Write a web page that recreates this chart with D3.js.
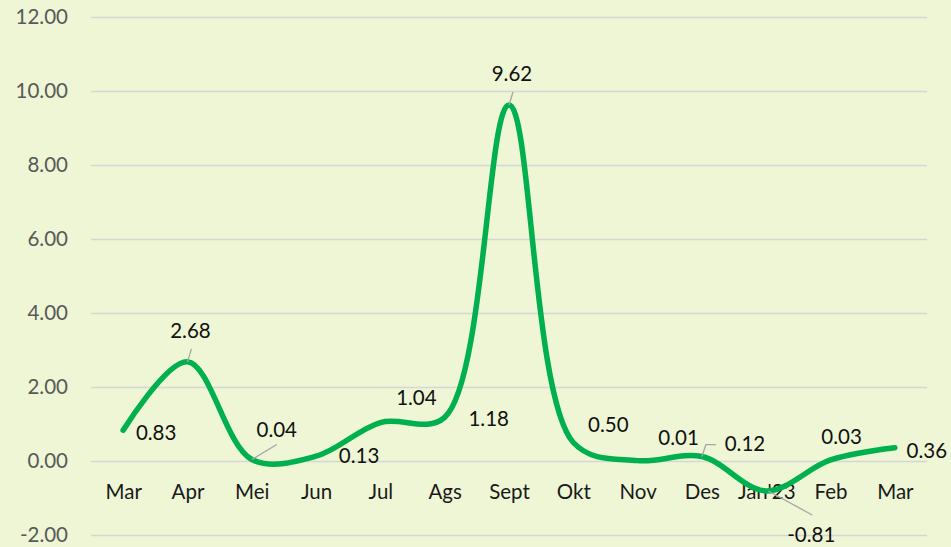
<!DOCTYPE html>
<html>
<head>
<meta charset="utf-8">
<script src="https://cdn.jsdelivr.net/npm/d3@7"></script>
<style>
  html, body { margin: 0; padding: 0; background: #eef6d5; }
  #chart { width: 951px; height: 547px; }
  text { font-family: Lato, "Open Sans", sans-serif; }
</style>
</head>
<body>
<div id="chart"></div>
<script>
/* ---------- Data ---------- */
const categories = ["Mar", "Apr", "Mei", "Jun", "Jul", "Ags", "Sept", "Okt", "Nov", "Des", "Jan'23", "Feb", "Mar"];
const values = [0.83, 2.68, 0.04, 0.13, 1.04, 1.18, 9.62, 0.50, 0.01, 0.12, -0.81, 0.03, 0.36];
const yTicks = [-2, 0, 2, 4, 6, 8, 10, 12];

// label placement relative to each point (moved labels, as in the source)
const labelOffsets = [[33, 3], [3, -31], [25, -30], [43, 0], [36, -25], [44, 1], [3, -31],
                      [35, -18], [41, -23], [43, -13], [45, 44], [11, -23], [32, 3]];
// leader lines, relative to the point
const leaders = {
  1: [[0, 0], [4, -13]],
  2: [[0, 0], [25, -15]],
  6: [[0, 0], [4, -13]],
  9: [[0, 0], [4, -12], [14, -12]],
  10: [[2, 0], [46, 24]]
};

/* ---------- Chart ---------- */
function drawChart() {
  const width = 951, height = 547;
  const margin = { top: 17, right: 24, bottom: 12, left: 91 };

  const svg = d3.select("#chart").append("svg")
    .attr("width", width)
    .attr("height", height);

  svg.append("rect")
    .attr("width", width).attr("height", height)
    .attr("fill", "#eef6d5");

  const x = d3.scalePoint()
    .domain(d3.range(categories.length))
    .range([margin.left, width - margin.right])
    .padding(0.5);

  const y = d3.scaleLinear()
    .domain([-2, 12])
    .range([height - margin.bottom, margin.top]);

  // Grid lines
  svg.append("g")
    .attr("transform", `translate(${margin.left},0)`)
    .call(d3.axisLeft(y)
      .tickValues(yTicks)
      .tickSize(-(width - margin.right - margin.left))
      .tickFormat(""))
    .call(g => g.select(".domain").remove())
    .selectAll("line")
    .attr("stroke", "#d6d6d6")
    .attr("stroke-width", 1.5);

  // Y axis labels
  svg.append("g")
    .attr("transform", `translate(${margin.left - 9},0)`)
    .call(d3.axisLeft(y).tickValues(yTicks).tickSize(0).tickFormat(d => d.toFixed(2)))
    .call(g => g.select(".domain").remove())
    .selectAll("text")
    .attr("x", -14)
    .style("font-family", "Lato, sans-serif")
    .style("font-size", "20.5px")
    .style("fill", "#595959");

  // X axis labels (sit just under the zero line)
  svg.append("g")
    .attr("transform", `translate(0,${y(0)})`)
    .call(d3.axisBottom(x).tickSize(0).tickFormat(i => categories[i]))
    .call(g => g.select(".domain").remove())
    .selectAll("text")
    .attr("y", 23)
    .style("font-family", "Lato, sans-serif")
    .style("font-size", "20.5px")
    .style("fill", "#1a1a1a");

  // Smoothed line
  const line = d3.line()
    .x((d, i) => x(i))
    .y(d => y(d))
    .curve(d3.curveCatmullRom.alpha(0.5));

  svg.append("path")
    .datum(values)
    .attr("fill", "none")
    .attr("stroke", "#00b04f")
    .attr("stroke-width", 5.5)
    .attr("stroke-linecap", "round")
    .attr("stroke-linejoin", "round")
    .attr("d", line);

  // Leader lines
  Object.keys(leaders).forEach(k => {
    const i = +k;
    const px = x(i), py = y(values[i]);
    svg.append("path")
      .attr("d", d3.line()(leaders[k].map(p => [px + p[0], py + p[1]])))
      .attr("fill", "none")
      .attr("stroke", "#a6a6a6")
      .attr("stroke-width", 1.3);
  });

  // Data labels
  svg.append("g").selectAll("text")
    .data(values)
    .enter().append("text")
    .attr("x", (d, i) => x(i) + labelOffsets[i][0])
    .attr("y", (d, i) => y(d) + labelOffsets[i][1])
    .attr("dy", "0.35em")
    .attr("text-anchor", "middle")
    .text(d => d.toFixed(2))
    .style("font-size", "20.5px")
    .style("fill", "#111");
}

drawChart();
</script>
</body>
</html>
